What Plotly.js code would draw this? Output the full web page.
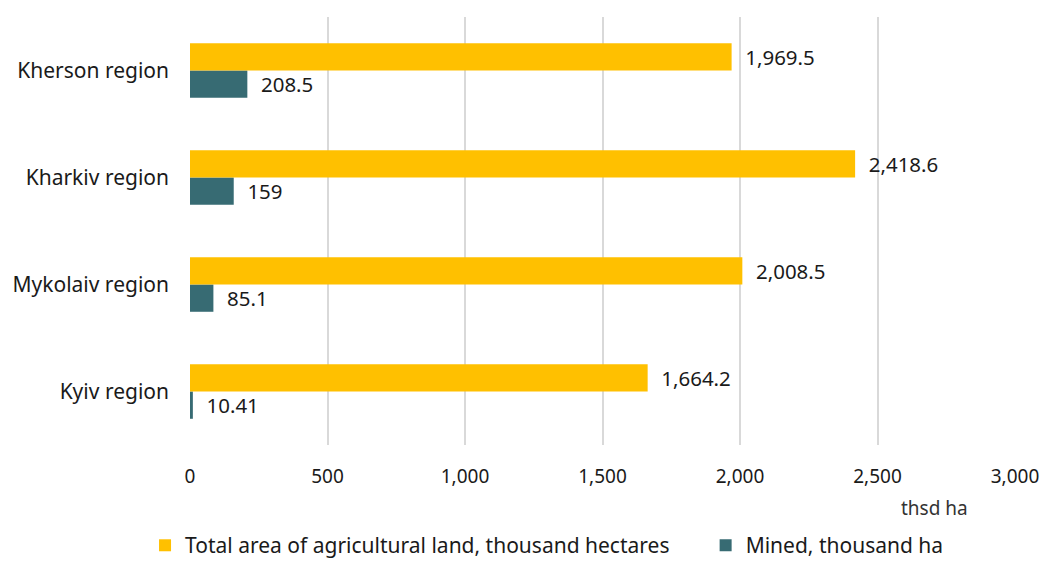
<!DOCTYPE html>
<html>
<head>
<meta charset="utf-8">
<script src="https://cdn.plot.ly/plotly-3.0.1.min.js"></script>
<style>html,body{margin:0;padding:0;background:#fff;}#chart{width:1047px;height:561px;}</style>
</head>
<body>
<div id="chart"></div>
<script>
const regions = ["Kyiv region", "Mykolaiv region", "Kharkiv region", "Kherson region"];
const totalArea = [1664.2, 2008.5, 2418.6, 1969.5];
const mined = [10.41, 85.1, 159, 208.5];
const seriesNames = ["Total area of agricultural land, thousand hectares", "Mined, thousand ha"];
const xTicks = [0, 500, 1000, 1500, 2000, 2500, 3000];
const unitLabel = "thsd ha";

const FONT = "Noto Sans, sans-serif";
const NB = "\u00a0\u00a0";
const TXT = "#1a1a1a";

const traces = [
  {
    type: "bar", orientation: "h", name: seriesNames[1],
    y: regions, x: mined,
    marker: {color: "#376B73"},
    texttemplate: NB + "%{x:,}", textposition: "outside", cliponaxis: false,
    textfont: {family: FONT, size: 21, color: TXT},
    legend: "legend2", hoverinfo: "x+name"
  },
  {
    type: "bar", orientation: "h", name: seriesNames[0],
    y: regions, x: totalArea,
    marker: {color: "#FFC000"},
    texttemplate: NB + "%{x:,}", textposition: "outside", cliponaxis: false,
    textfont: {family: FONT, size: 21, color: TXT},
    legend: "legend", hoverinfo: "x+name"
  }
];

const legendBase = {orientation: "h", xanchor: "left", y: -0.283, yanchor: "bottom",
  font: {family: FONT, size: 21, color: TXT}, itemwidth: 30, bgcolor: "rgba(0,0,0,0)"};

const layout = {
  width: 1047, height: 561,
  margin: {l: 190, r: 32, t: 17, b: 116, autoexpand: false},
  paper_bgcolor: "#fff", plot_bgcolor: "#fff",
  font: {family: FONT, size: 20, color: TXT},
  barmode: "group", bargap: 0.49, bargroupgap: 0,
  showlegend: true,
  legend: Object.assign({}, legendBase, {x: -0.0545}),
  legend2: Object.assign({}, legendBase, {x: 0.625}),
  xaxis: {
    range: [0, 3000], tickvals: xTicks, tickformat: ",",
    showgrid: true, gridcolor: "#d9d9d9", gridwidth: 2,
    zeroline: false, showline: false, ticks: "",
    ticklabelstandoff: 18,
    tickfont: {family: FONT, size: 19, color: TXT},
    fixedrange: true
  },
  yaxis: {
    showgrid: false, zeroline: false, showline: false, ticks: "",
    ticklabelstandoff: 20,
    tickfont: {family: FONT, size: 21, color: TXT},
    fixedrange: true
  },
  annotations: [{
    text: unitLabel, xref: "paper", yref: "paper", x: 0.903, y: -0.147,
    xanchor: "center", yanchor: "middle", showarrow: false,
    font: {family: FONT, size: 19, color: "#333"}
  }]
};

Plotly.newPlot("chart", traces, layout, {displayModeBar: false, staticPlot: true});
</script>
</body>
</html>
